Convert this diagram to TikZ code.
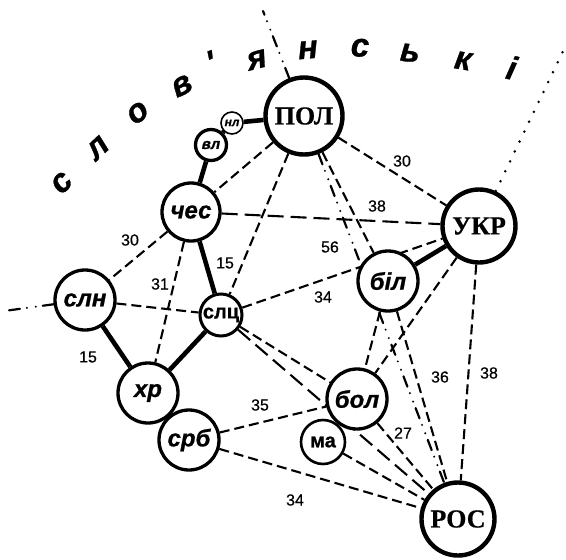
\documentclass[tikz,border=0pt]{standalone}
\usepackage{fontspec}
\setmainfont{Liberation Serif}[BoldFeatures={FakeBold=0.5}]
\newfontfamily\sansfont{Liberation Sans}[BoldFeatures={FakeBold=0.9},
    BoldItalicFeatures={FakeBold=0.9}]
\newfontfamily\numfont{Liberation Sans}[FakeBold=0.5]
\usetikzlibrary{backgrounds}
\tikzstyle{bigcircle} = [draw=black, fill=white, circle, line width=4.4pt,
    inner sep=0pt, minimum size=73pt, font=\fontsize{26}{26}\selectfont\bfseries]
\tikzstyle{langcircle} = [draw=black, fill=white, circle, line width=3.3pt,
    inner sep=0pt, minimum size=60pt, font=\sansfont\fontsize{24}{24}\selectfont\bfseries\itshape]
\tikzstyle{plaincircle} = [draw=black, fill=white, circle, line width=3pt,
    inner sep=0pt, font=\sansfont\fontsize{20}{20}\selectfont\bfseries]
\tikzstyle{boldlink} = [line width=4.6pt]
\tikzstyle{dashlink} = [line width=2.1pt, dash pattern=on 10pt off 5pt]
\tikzstyle{longlink} = [line width=2.1pt, dash pattern=on 16pt off 7pt]
\tikzstyle{borderline} = [line width=2.2pt, line cap=round,
    dash pattern=on 11pt off 7pt on 0pt off 9pt on 0pt off 7pt]
\tikzstyle{dotline} = [line width=2.8pt, line cap=round, dash pattern=on 0pt off 11pt]
\tikzstyle{numlabel} = [font=\numfont\fontsize{16}{16}\selectfont, inner sep=0pt]
\tikzstyle{arcletter} = [font=\sansfont\fontsize{33}{33}\selectfont\bfseries\itshape,
    inner sep=0pt, text height=17pt, text depth=0pt]

\begin{document}
\begin{tikzpicture}[x=1pt, y=-1pt]
\useasboundingbox (0,0) rectangle (566,560);

% languages
\node[bigcircle, minimum size=77pt] (pol) at (304,116) {ПОЛ};
\node[bigcircle] (ukr) at (479,226) {УКР};
\node[bigcircle] (ros) at (458,519) {РОС};
\node[langcircle, minimum size=58pt] (ches) at (191,212) {чес};
\node[langcircle] (bil) at (388,281) {біл};
\node[langcircle] (sln) at (85,300) {слн};
\node[langcircle] (khr) at (148,393) {хр};
\node[langcircle] (srb) at (189,440) {срб};
\node[langcircle] (bol) at (357,399) {бол};
\node[plaincircle, minimum size=42pt] (slc) at (221,315) {слц};
\node[plaincircle, minimum size=44pt, line width=2.6pt] (ma) at (323,442) {ма};
\node[langcircle, minimum size=31pt, font=\sansfont\fontsize{15}{15}\selectfont\bfseries\itshape] (vl) at (211,145) {вл};
\node[langcircle, minimum size=22pt, line width=1.6pt, font=\sansfont\fontsize{12}{12}\selectfont\bfseries\itshape] (nl) at (232,123) {нл};

\coordinate (top) at (263,11);
\coordinate (west) at (4,311);
\coordinate (northeast) at (566,45);

\begin{scope}[on background layer]
\draw[boldlink] (pol) -- (nl);
\draw[boldlink] (nl) -- (vl);
\draw[boldlink] (vl) -- (ches);
\draw[boldlink] (ches) -- (slc);
\draw[boldlink] (slc) -- (khr);
\draw[boldlink] (sln) -- (khr);
\draw[boldlink] (bil) -- (ukr);

\draw[dashlink] (pol) -- (ches);
\draw[dashlink] (pol) -- (slc);
\draw[dashlink] (pol) -- (ukr);
\draw[dashlink] (pol) -- (bil);
\draw[dashlink] (slc) -- (ukr);
\draw[dashlink] (ches) -- (sln);
\draw[dashlink] (ches) -- (khr);
\draw[dashlink] (sln) -- (slc);
\draw[dashlink] (slc) -- (bol);
\draw[dashlink] (srb) -- (bol);
\draw[dashlink] (srb) -- (ros);
\draw[dashlink] (ma) -- (ros);
\draw[dashlink] (bol) -- (ros);
\draw[dashlink] (bil) -- (bol);
\draw[dashlink] (bil) -- (ros);
\draw[dashlink] (ukr) -- (bol);
\draw[dashlink] (ukr) -- (ros);
\draw[longlink] (ches) -- (ukr);
\draw[longlink] (slc) -- (ros);

\draw[borderline] (pol) -- (ros);
\draw[borderline] (pol) -- (top);
\draw[borderline] (sln) -- (west);
\draw[dotline] (ukr) -- (northeast);
\end{scope}

% distances
\node[numlabel] (n1) at (402,161) {30};
\node[numlabel] (n2) at (377,206) {38};
\node[numlabel] (n3) at (330,247) {56};
\node[numlabel] (n4) at (323,297) {34};
\node[numlabel] (n5) at (130,240) {30};
\node[numlabel] (n6) at (160,284) {31};
\node[numlabel] (n7) at (225,263) {15};
\node[numlabel] (n8) at (88,357) {15};
\node[numlabel] (n9) at (260,405) {35};
\node[numlabel] (n10) at (295,500) {34};
\node[numlabel] (n11) at (403,433) {27};
\node[numlabel] (n12) at (440,377) {36};
\node[numlabel] (n13) at (489,373) {38};

% arc title
\foreach \ch/\x/\y/\r [count=\i] in {с/62/183/48, л/98/148/43, о/138/113/36,
    в/182/86/27, '/212/65/20, я/257/60/14, н/308/50/5, с/360/48/-1,
    ь/410/53/-5, к/463/61/-9, і/511/71/-13}
  \node[arcletter, rotate=\r] (arc\i) at (\x,\y) {\ch};
\end{tikzpicture}
\end{document}
